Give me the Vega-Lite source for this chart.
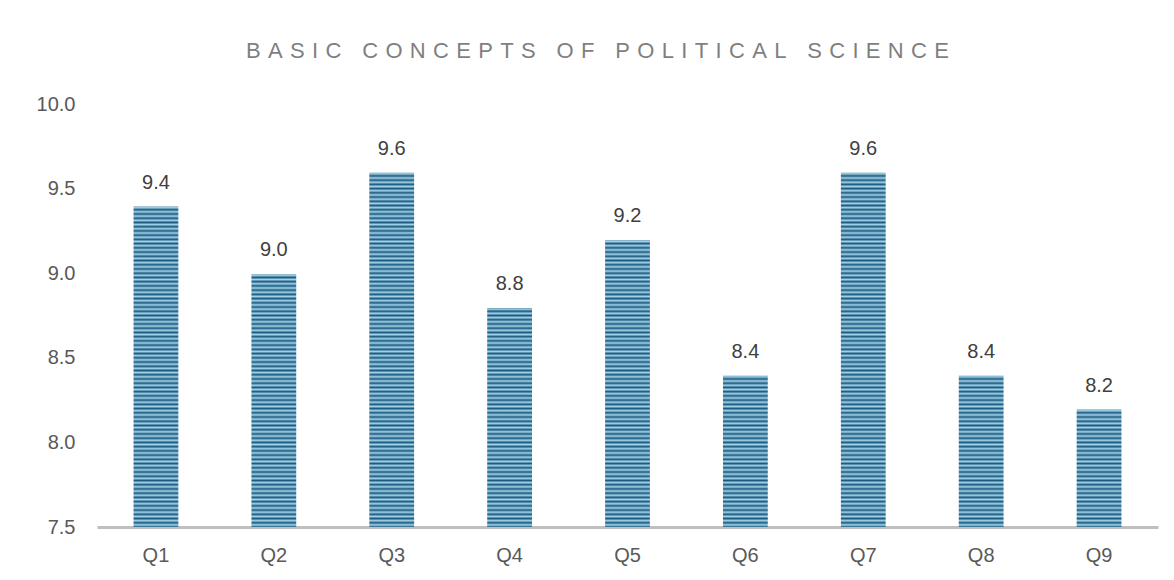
{
  "$schema": "https://vega.github.io/schema/vega-lite/v6.json",
  "width": 1061,
  "height": 423,
  "autosize": {"type": "none"},
  "padding": {"left": 97, "top": 104, "right": 16, "bottom": 53},
  "background": "#ffffff",
  "config": {
    "view": {"stroke": null},
    "font": "Liberation Sans"
  },
  "title": {
    "text": "B\u2004A\u2004S\u2004I\u2004C\u2004 \u2004C\u2004O\u2004N\u2004C\u2004E\u2004P\u2004T\u2004S\u2004 \u2004O\u2004F\u2004 \u2004P\u2004O\u2004L\u2004I\u2004T\u2004I\u2004C\u2004A\u2004L\u2004 \u2004S\u2004C\u2004I\u2004E\u2004N\u2004C\u2004E",
    "font": "Liberation Sans",
    "fontSize": 22,
    "fontWeight": "normal",
    "color": "#7f7f7f",
    "anchor": "middle",
    "frame": "group",
    "baseline": "alphabetic",
    "offset": 14,
    "dx": -30
  },
  "data": {
    "values": [
      {"q": "Q1", "score": 9.4},
      {"q": "Q2", "score": 9.0},
      {"q": "Q3", "score": 9.6},
      {"q": "Q4", "score": 8.8},
      {"q": "Q5", "score": 9.2},
      {"q": "Q6", "score": 8.4},
      {"q": "Q7", "score": 9.6},
      {"q": "Q8", "score": 8.4},
      {"q": "Q9", "score": 8.2}
    ]
  },
  "encoding": {
    "x": {
      "field": "q",
      "type": "nominal",
      "sort": null,
      "scale": {"paddingInner": 0.62, "paddingOuter": 0.31},
      "axis": {
        "title": null,
        "labelAngle": 0,
        "labelFontSize": 20,
        "labelColor": "#595959",
        "labelPadding": 18,
        "ticks": false,
        "domain": true,
        "domainColor": "#bfbfbf",
        "domainWidth": 3
      }
    }
  },
  "layer": [
    {
      "mark": {
        "type": "bar",
        "clip": true,
        "fill": {
          "gradient": "linear", "x1": 0, "y1": 0, "x2": 0, "y2": 1,
          "stops": [
{"offset":0,"color":"#1a5a80"},{"offset":0.005,"color":"#a3d2e8"},{"offset":0.01,"color":"#1a5a80"},{"offset":0.015,"color":"#a3d2e8"},{"offset":0.02,"color":"#1a5a80"},{"offset":0.025,"color":"#a3d2e8"},{"offset":0.03,"color":"#1a5a80"},{"offset":0.035,"color":"#a3d2e8"},{"offset":0.04,"color":"#1a5a80"},{"offset":0.045,"color":"#a3d2e8"},
{"offset":0.05,"color":"#1a5a80"},{"offset":0.055,"color":"#a3d2e8"},{"offset":0.06,"color":"#1a5a80"},{"offset":0.065,"color":"#a3d2e8"},{"offset":0.07,"color":"#1a5a80"},{"offset":0.075,"color":"#a3d2e8"},{"offset":0.08,"color":"#1a5a80"},{"offset":0.085,"color":"#a3d2e8"},{"offset":0.09,"color":"#1a5a80"},{"offset":0.095,"color":"#a3d2e8"},
{"offset":0.1,"color":"#1a5a80"},{"offset":0.105,"color":"#a3d2e8"},{"offset":0.11,"color":"#1a5a80"},{"offset":0.115,"color":"#a3d2e8"},{"offset":0.12,"color":"#1a5a80"},{"offset":0.125,"color":"#a3d2e8"},{"offset":0.13,"color":"#1a5a80"},{"offset":0.135,"color":"#a3d2e8"},{"offset":0.14,"color":"#1a5a80"},{"offset":0.145,"color":"#a3d2e8"},
{"offset":0.15,"color":"#1a5a80"},{"offset":0.155,"color":"#a3d2e8"},{"offset":0.16,"color":"#1a5a80"},{"offset":0.165,"color":"#a3d2e8"},{"offset":0.17,"color":"#1a5a80"},{"offset":0.175,"color":"#a3d2e8"},{"offset":0.18,"color":"#1a5a80"},{"offset":0.185,"color":"#a3d2e8"},{"offset":0.19,"color":"#1a5a80"},{"offset":0.195,"color":"#a3d2e8"},
{"offset":0.2,"color":"#1a5a80"},{"offset":0.205,"color":"#a3d2e8"},{"offset":0.21,"color":"#1a5a80"},{"offset":0.215,"color":"#a3d2e8"},{"offset":0.22,"color":"#1a5a80"},{"offset":0.225,"color":"#a3d2e8"},{"offset":0.23,"color":"#1a5a80"},{"offset":0.235,"color":"#a3d2e8"},{"offset":0.24,"color":"#1a5a80"},{"offset":0.245,"color":"#a3d2e8"},
{"offset":0.25,"color":"#1a5a80"},{"offset":0.255,"color":"#a3d2e8"},{"offset":0.26,"color":"#1a5a80"},{"offset":0.265,"color":"#a3d2e8"},{"offset":0.27,"color":"#1a5a80"},{"offset":0.275,"color":"#a3d2e8"},{"offset":0.28,"color":"#1a5a80"},{"offset":0.285,"color":"#a3d2e8"},{"offset":0.29,"color":"#1a5a80"},{"offset":0.295,"color":"#a3d2e8"},
{"offset":0.3,"color":"#1a5a80"},{"offset":0.305,"color":"#a3d2e8"},{"offset":0.31,"color":"#1a5a80"},{"offset":0.315,"color":"#a3d2e8"},{"offset":0.32,"color":"#1a5a80"},{"offset":0.325,"color":"#a3d2e8"},{"offset":0.33,"color":"#1a5a80"},{"offset":0.335,"color":"#a3d2e8"},{"offset":0.34,"color":"#1a5a80"},{"offset":0.345,"color":"#a3d2e8"},
{"offset":0.35,"color":"#1a5a80"},{"offset":0.355,"color":"#a3d2e8"},{"offset":0.36,"color":"#1a5a80"},{"offset":0.365,"color":"#a3d2e8"},{"offset":0.37,"color":"#1a5a80"},{"offset":0.375,"color":"#a3d2e8"},{"offset":0.38,"color":"#1a5a80"},{"offset":0.385,"color":"#a3d2e8"},{"offset":0.39,"color":"#1a5a80"},{"offset":0.395,"color":"#a3d2e8"},
{"offset":0.4,"color":"#1a5a80"},{"offset":0.405,"color":"#a3d2e8"},{"offset":0.41,"color":"#1a5a80"},{"offset":0.415,"color":"#a3d2e8"},{"offset":0.42,"color":"#1a5a80"},{"offset":0.425,"color":"#a3d2e8"},{"offset":0.43,"color":"#1a5a80"},{"offset":0.435,"color":"#a3d2e8"},{"offset":0.44,"color":"#1a5a80"},{"offset":0.445,"color":"#a3d2e8"},
{"offset":0.45,"color":"#1a5a80"},{"offset":0.455,"color":"#a3d2e8"},{"offset":0.46,"color":"#1a5a80"},{"offset":0.465,"color":"#a3d2e8"},{"offset":0.47,"color":"#1a5a80"},{"offset":0.475,"color":"#a3d2e8"},{"offset":0.48,"color":"#1a5a80"},{"offset":0.485,"color":"#a3d2e8"},{"offset":0.49,"color":"#1a5a80"},{"offset":0.495,"color":"#a3d2e8"},
{"offset":0.5,"color":"#1a5a80"},{"offset":0.505,"color":"#a3d2e8"},{"offset":0.51,"color":"#1a5a80"},{"offset":0.515,"color":"#a3d2e8"},{"offset":0.52,"color":"#1a5a80"},{"offset":0.525,"color":"#a3d2e8"},{"offset":0.53,"color":"#1a5a80"},{"offset":0.535,"color":"#a3d2e8"},{"offset":0.54,"color":"#1a5a80"},{"offset":0.545,"color":"#a3d2e8"},
{"offset":0.55,"color":"#1a5a80"},{"offset":0.555,"color":"#a3d2e8"},{"offset":0.56,"color":"#1a5a80"},{"offset":0.565,"color":"#a3d2e8"},{"offset":0.57,"color":"#1a5a80"},{"offset":0.575,"color":"#a3d2e8"},{"offset":0.58,"color":"#1a5a80"},{"offset":0.585,"color":"#a3d2e8"},{"offset":0.59,"color":"#1a5a80"},{"offset":0.595,"color":"#a3d2e8"},
{"offset":0.6,"color":"#1a5a80"},{"offset":0.605,"color":"#a3d2e8"},{"offset":0.61,"color":"#1a5a80"},{"offset":0.615,"color":"#a3d2e8"},{"offset":0.62,"color":"#1a5a80"},{"offset":0.625,"color":"#a3d2e8"},{"offset":0.63,"color":"#1a5a80"},{"offset":0.635,"color":"#a3d2e8"},{"offset":0.64,"color":"#1a5a80"},{"offset":0.645,"color":"#a3d2e8"},
{"offset":0.65,"color":"#1a5a80"},{"offset":0.655,"color":"#a3d2e8"},{"offset":0.66,"color":"#1a5a80"},{"offset":0.665,"color":"#a3d2e8"},{"offset":0.67,"color":"#1a5a80"},{"offset":0.675,"color":"#a3d2e8"},{"offset":0.68,"color":"#1a5a80"},{"offset":0.685,"color":"#a3d2e8"},{"offset":0.69,"color":"#1a5a80"},{"offset":0.695,"color":"#a3d2e8"},
{"offset":0.7,"color":"#1a5a80"},{"offset":0.705,"color":"#a3d2e8"},{"offset":0.71,"color":"#1a5a80"},{"offset":0.715,"color":"#a3d2e8"},{"offset":0.72,"color":"#1a5a80"},{"offset":0.725,"color":"#a3d2e8"},{"offset":0.73,"color":"#1a5a80"},{"offset":0.735,"color":"#a3d2e8"},{"offset":0.74,"color":"#1a5a80"},{"offset":0.745,"color":"#a3d2e8"},
{"offset":0.75,"color":"#1a5a80"},{"offset":0.755,"color":"#a3d2e8"},{"offset":0.76,"color":"#1a5a80"},{"offset":0.765,"color":"#a3d2e8"},{"offset":0.77,"color":"#1a5a80"},{"offset":0.775,"color":"#a3d2e8"},{"offset":0.78,"color":"#1a5a80"},{"offset":0.785,"color":"#a3d2e8"},{"offset":0.79,"color":"#1a5a80"},{"offset":0.795,"color":"#a3d2e8"},
{"offset":0.8,"color":"#1a5a80"},{"offset":0.805,"color":"#a3d2e8"},{"offset":0.81,"color":"#1a5a80"},{"offset":0.815,"color":"#a3d2e8"},{"offset":0.82,"color":"#1a5a80"},{"offset":0.825,"color":"#a3d2e8"},{"offset":0.83,"color":"#1a5a80"},{"offset":0.835,"color":"#a3d2e8"},{"offset":0.84,"color":"#1a5a80"},{"offset":0.845,"color":"#a3d2e8"},
{"offset":0.85,"color":"#1a5a80"},{"offset":0.855,"color":"#a3d2e8"},{"offset":0.86,"color":"#1a5a80"},{"offset":0.865,"color":"#a3d2e8"},{"offset":0.87,"color":"#1a5a80"},{"offset":0.875,"color":"#a3d2e8"},{"offset":0.88,"color":"#1a5a80"},{"offset":0.885,"color":"#a3d2e8"},{"offset":0.89,"color":"#1a5a80"},{"offset":0.895,"color":"#a3d2e8"},
{"offset":0.9,"color":"#1a5a80"},{"offset":0.905,"color":"#a3d2e8"},{"offset":0.91,"color":"#1a5a80"},{"offset":0.915,"color":"#a3d2e8"},{"offset":0.92,"color":"#1a5a80"},{"offset":0.925,"color":"#a3d2e8"},{"offset":0.93,"color":"#1a5a80"},{"offset":0.935,"color":"#a3d2e8"},{"offset":0.94,"color":"#1a5a80"},{"offset":0.945,"color":"#a3d2e8"},
{"offset":0.95,"color":"#1a5a80"},{"offset":0.955,"color":"#a3d2e8"},{"offset":0.96,"color":"#1a5a80"},{"offset":0.965,"color":"#a3d2e8"},{"offset":0.97,"color":"#1a5a80"},{"offset":0.975,"color":"#a3d2e8"},{"offset":0.98,"color":"#1a5a80"},{"offset":0.985,"color":"#a3d2e8"},{"offset":0.99,"color":"#1a5a80"},{"offset":0.995,"color":"#a3d2e8"},
{"offset":1,"color":"#1a5a80"}
          ]
        }
      },
      "encoding": {
        "y": {
          "datum": 10,
          "type": "quantitative",
          "scale": {"domain": [7.5, 10], "nice": false, "zero": false},
          "axis": {
            "title": null,
            "values": [7.5, 8, 8.5, 9, 9.5, 10],
            "format": ".1f",
            "grid": false,
            "domain": false,
            "ticks": false,
            "labelFontSize": 20,
            "labelColor": "#595959",
            "labelPadding": 22
          }
        },
        "y2": {"datum": 7.5}
      }
    },
    {
      "mark": {"type": "bar", "fill": "#ffffff", "stroke": "#ffffff", "strokeWidth": 2, "clip": true},
      "encoding": {
        "y": {"field": "score", "type": "quantitative"},
        "y2": {"datum": 10}
      }
    },
    {
      "mark": {"type": "text", "fontSize": 20, "color": "#404040", "baseline": "alphabetic", "dy": -17},
      "encoding": {
        "y": {"field": "score", "type": "quantitative"},
        "text": {"field": "score", "type": "quantitative", "format": ".1f"}
      }
    }
  ]
}
